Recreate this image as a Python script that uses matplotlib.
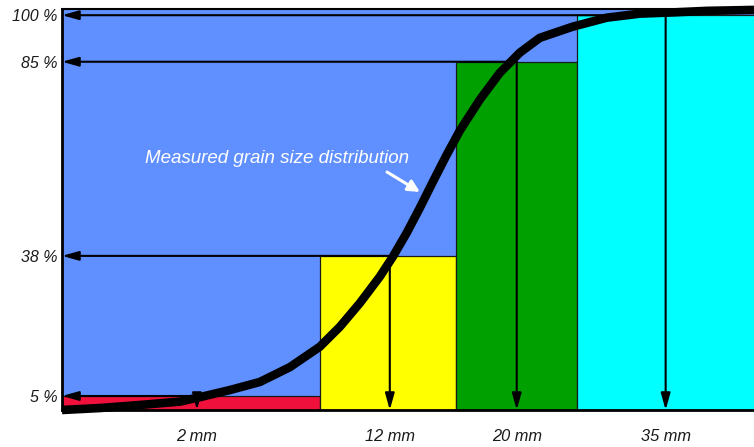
import numpy as np
import matplotlib
matplotlib.use("Agg")
import matplotlib.pyplot as plt

# characteristic grain sizes and passing percentages
sizes_mm = [2, 12, 20, 35]
passing_pct = [5, 38, 85, 100]
size_labels = ["2 mm", "12 mm", "20 mm", "35 mm"]
pct_labels = ["5 %", "38 %", "85 %", "100 %"]

# fraction blocks (mm edges) and their heights
block_edges = [0, 8.4, 16.2, 26.1, 44]
block_pct = [5, 38, 85, 100]
block_colors = ["#f0103c", "#ffff00", "#00a000", "#00ffff"]

# measured grain size distribution
curve_mm = [0, 0.56, 1.16, 1.75, 2.16, 3.71, 5.26, 6.82, 8.37, 9.41, 10.45,
            11.48, 12.19, 13.07, 13.89, 14.71, 15.59, 16.41, 17.67, 18.93,
            20.30, 22.32, 25.64, 29.06, 32.39, 35.70, 39.13, 43.9]
curve_pct = [0, 0.7, 1.8, 3.0, 4.6, 6.4, 8.3, 11.8, 16.6, 21.3, 26.9,
             33.1, 37.8, 43.6, 49.6, 55.9, 62.5, 68.3, 75.8, 82.3,
             87.9, 92.7, 96.3, 99.2, 100.5, 100.9, 101.4, 101.7]


def piecewise_scale(vals, pos):
    vals = np.asarray(vals, float)
    pos = np.asarray(pos, float)

    def fwd(v):
        v = np.asarray(v, float)
        out = np.interp(v, vals, pos)
        lo = (pos[1] - pos[0]) / (vals[1] - vals[0])
        hi = (pos[-1] - pos[-2]) / (vals[-1] - vals[-2])
        out = np.where(v < vals[0], pos[0] + (v - vals[0]) * lo, out)
        out = np.where(v > vals[-1], pos[-1] + (v - vals[-1]) * hi, out)
        return out

    def inv(p):
        p = np.asarray(p, float)
        out = np.interp(p, pos, vals)
        lo = (vals[1] - vals[0]) / (pos[1] - pos[0])
        hi = (vals[-1] - vals[-2]) / (pos[-1] - pos[-2])
        out = np.where(p < pos[0], vals[0] + (p - pos[0]) * lo, out)
        out = np.where(p > pos[-1], vals[-1] + (p - pos[-1]) * hi, out)
        return out

    return fwd, inv


plt.rcParams['font.family'] = ['Liberation Sans', 'DejaVu Sans']

fig = plt.figure(figsize=(7.54, 4.47), dpi=100)
ax = fig.add_axes([62 / 754, 1 - 410 / 447, 692 / 754, 401 / 447])
ax.set_facecolor("#6090ff")

# the schematic axes are not to scale
ax.set_xscale("function", functions=piecewise_scale([0, 2, 12, 20, 35], [0, 135, 328, 455, 604]))
ax.set_yscale("function", functions=piecewise_scale([0, 5, 38, 85, 100], [0, 14, 154, 348, 394.5]))
ax.set_xlim(0, 43.9)
ax.set_ylim(0, 102)

ax.bar(block_edges[:-1], block_pct, width=np.diff(block_edges), align="edge",
       color=block_colors, edgecolor="#1a1a1a", linewidth=0.9, zorder=2)

arrow_kw = dict(arrowstyle="-|>,head_length=1.0,head_width=0.28", color="black",
                lw=1.5, shrinkA=0, shrinkB=0)
for s, p in zip(sizes_mm, passing_pct):
    ax.annotate("", xy=(0, p), xytext=(s, p), arrowprops=arrow_kw,
                annotation_clip=False, zorder=3)
    ax.annotate("", xy=(s, 0), xytext=(s, p), arrowprops=arrow_kw,
                annotation_clip=False, zorder=3)

ax.plot(curve_mm, curve_pct, color="black", lw=6.2, solid_capstyle="butt",
        solid_joinstyle="round", zorder=4, clip_on=False)

ax.text(0.3114, 0.617, "Measured grain size distribution", transform=ax.transAxes,
        ha="center", va="baseline", color="white", fontsize=13.5, style="italic")
ax.annotate("", xy=(0.5173, 0.5436), xycoords="axes fraction",
            xytext=(0.4697, 0.5935), textcoords="axes fraction",
            arrowprops=dict(arrowstyle="-|>,head_length=0.7,head_width=0.35",
                            color="white", lw=2.2, shrinkA=0, shrinkB=0))

ax.set_xticks(sizes_mm)
ax.set_xticklabels(size_labels, fontsize=11.8, style="italic", color="#1a1a1a")
ax.set_yticks(passing_pct)
ax.set_yticklabels(pct_labels, fontsize=11.5, style="italic", color="#1a1a1a")
ax.tick_params(axis="x", length=0, pad=14)
ax.tick_params(axis="y", length=0, pad=3.5)
ax.minorticks_off()

ax.spines["right"].set_visible(False)
ax.spines["left"].set_linewidth(2)
ax.spines["bottom"].set_linewidth(2)
ax.spines["top"].set_linewidth(1.5)

fig.savefig("out.png", dpi=100)
